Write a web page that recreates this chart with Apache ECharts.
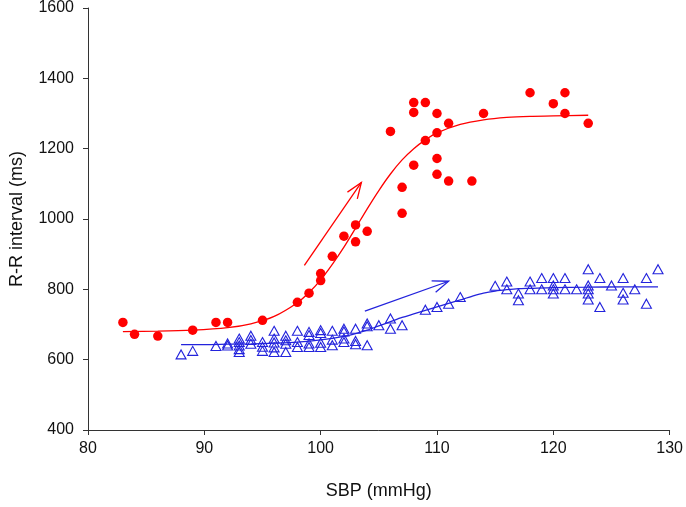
<!DOCTYPE html>
<html>
<head>
<meta charset="utf-8">
<script src="https://cdn.jsdelivr.net/npm/echarts/dist/echarts.min.js"></script>
<style>
html,body{margin:0;padding:0;background:#fff;}
#chart{width:686px;height:507px;}
</style>
</head>
<body>
<div id="chart"></div>
<script>
// Red filled circles: [SBP, R-R]
var redPoints = [
  [83,706],[84,672],[86,667],[89,684],[91,706],[92,706],[95,712],[98,763],[99,789],
  [100,825],[100,845],[101,894],[102,951],[103,983],[103,935],[104,965],[106,1249],
  [107,1016],[107,1090],[108,1153],[108,1303],[108,1331],[109,1331],[109,1223],
  [110,1300],[110,1245],[110,1172],[110,1127],[111,1272],[111,1108],[113,1108],
  [114,1300],[118,1359],[120,1328],[121,1359],[121,1300],[123,1272]
];
// Red fitted curve
var redCurve = [
  [83,680],[86,681],[89,684],[92,691],[94,702],[96,723],[98,762],[99,791],[100,827],
  [101,871],[102,920],[103,974],[104,1029],[105,1081],[106,1128],[107,1168],[108,1200],
  [109,1225],[110,1245],[112,1269],[114,1282],[116,1289],[118,1292],[120,1293],[123,1295]
];
// Blue open triangles: [SBP, R-R]
var bluePoints = [
  [88,615],[89,625],[91,639],[92,640],[92,646],
  [93,660],[93,650],[93,640],[93,630],[93,622],
  [94,668],[94,656],[94,645],
  [95,650],[95,637],[95,625],
  [96,682],[96,660],[96,649],[96,635],[96,622],
  [97,668],[97,655],[97,645],[97,622],
  [98,682],[98,650],[98,636],
  [99,679],[99,670],[99,646],[99,636],
  [100,684],[100,676],[100,648],[100,636],
  [101,682],[101,657],[101,641],
  [102,688],[102,680],[102,660],[102,650],
  [103,688],[103,653],[103,644],
  [104,703],[104,695],[104,641],
  [105,698],[106,717],[106,688],[107,698],
  [109,742],[110,750],[111,759],[112,778],
  [115,810],[116,822],[116,800],[117,788],[117,769],[118,822],[118,800],
  [119,832],[119,800],[120,832],[120,811],[120,800],[120,788],[121,832],[121,800],
  [122,800],[123,857],[123,811],[123,800],[123,788],[123,771],[124,832],[124,750],
  [125,811],[126,832],[126,790],[126,771],[127,800],[128,832],[128,759],[129,857]
];
// Blue fitted curve
var blueCurve = [
  [88,643],[90,643],[92,644],[94,645],[96,647],[98,650],[100,656],[102,666],[103,674],
  [104,684],[105,696],[106,708],[107,720],[108,730],[109,740],[110,750],[111,760],
  [112,770],[113,780],[114,789],[115,795],[116,799],[117,802],[118,803],[120,805],
  [123,806],[126,807],[129,807]
];
// Arrows: [x0, y0, x1, y1]
var redArrow = [[98.6,868,103.5,1104]];
var blueArrow = [[103.8,738,111.0,823]];

var xTicks = [80,90,100,110,120,130];
var yTicks = [400,600,800,1000,1200,1400,1600];

var RED = '#ff0000';
var BLUE = '#2323dc';

function arrowRender(color){
  return function(params, api){
    var p0 = api.coord([api.value(0), api.value(1)]);
    var p1 = api.coord([api.value(2), api.value(3)]);
    var ang = Math.atan2(p1[1]-p0[1], p1[0]-p0[0]);
    var L = 17, a = 0.36;
    var h1 = [p1[0]-L*Math.cos(ang-a), p1[1]-L*Math.sin(ang-a)];
    var h2 = [p1[0]-L*Math.cos(ang+a), p1[1]-L*Math.sin(ang+a)];
    return {type:'group', children:[
      {type:'line', shape:{x1:p0[0],y1:p0[1],x2:p1[0],y2:p1[1]}, style:{stroke:color, lineWidth:1.3}},
      {type:'polyline', shape:{points:[h1,p1,h2]}, style:{stroke:color, fill:null, lineWidth:1.3}}
    ]};
  };
}

var chart = echarts.init(document.getElementById('chart'), null, {renderer:'canvas'});
var axisColor = '#333';
var fontFam = 'Liberation Sans, Arial, sans-serif';
chart.setOption({
  animation:false,
  backgroundColor:'#fff',
  grid:{left:88, right:15, top:8, bottom:77},
  xAxis:{
    type:'value', min:xTicks[0], max:xTicks[xTicks.length-1], interval:10,
    name:'SBP (mmHg)', nameLocation:'middle', nameGap:52,
    nameTextStyle:{fontSize:18, color:'#111', fontFamily:fontFam},
    axisLine:{show:true, lineStyle:{color:axisColor, width:1}},
    axisTick:{show:true, inside:false, length:5, lineStyle:{color:axisColor}},
    axisLabel:{fontSize:16, color:'#111', margin:11, fontFamily:fontFam,
      formatter:function(v){return String(v);}},
    splitLine:{show:false}
  },
  yAxis:{
    type:'value', min:yTicks[0], max:yTicks[yTicks.length-1], interval:200,
    name:'R-R interval (ms)', nameLocation:'middle', nameGap:62, nameRotate:90,
    nameTextStyle:{fontSize:18, color:'#111', fontFamily:fontFam},
    axisLine:{show:true, lineStyle:{color:axisColor, width:1}},
    axisTick:{show:true, inside:false, length:5, lineStyle:{color:axisColor}},
    axisLabel:{fontSize:16, color:'#111', margin:14, fontFamily:fontFam,
      formatter:function(v){return String(v);}},
    splitLine:{show:false}
  },
  series:[
    {type:'line', data:redCurve, smooth:0.3, showSymbol:false, symbol:'none',
     lineStyle:{color:RED, width:1.3}, z:2},
    {type:'line', data:blueCurve, smooth:0.3, showSymbol:false, symbol:'none',
     lineStyle:{color:BLUE, width:1.3}, z:2},
    {type:'scatter', data:bluePoints, symbol:'triangle', symbolSize:[10,9],
     itemStyle:{color:'rgba(255,255,255,0)', borderColor:BLUE, borderWidth:1.1, opacity:1}, z:3},
    {type:'scatter', data:redPoints, symbol:'circle', symbolSize:9.5,
     itemStyle:{color:RED, opacity:1}, z:4},
    {type:'custom', data:redArrow, renderItem:arrowRender(RED), encode:{x:[0,2], y:[1,3]}, z:5},
    {type:'custom', data:blueArrow, renderItem:arrowRender(BLUE), encode:{x:[0,2], y:[1,3]}, z:5}
  ]
});
</script>
</body>
</html>
